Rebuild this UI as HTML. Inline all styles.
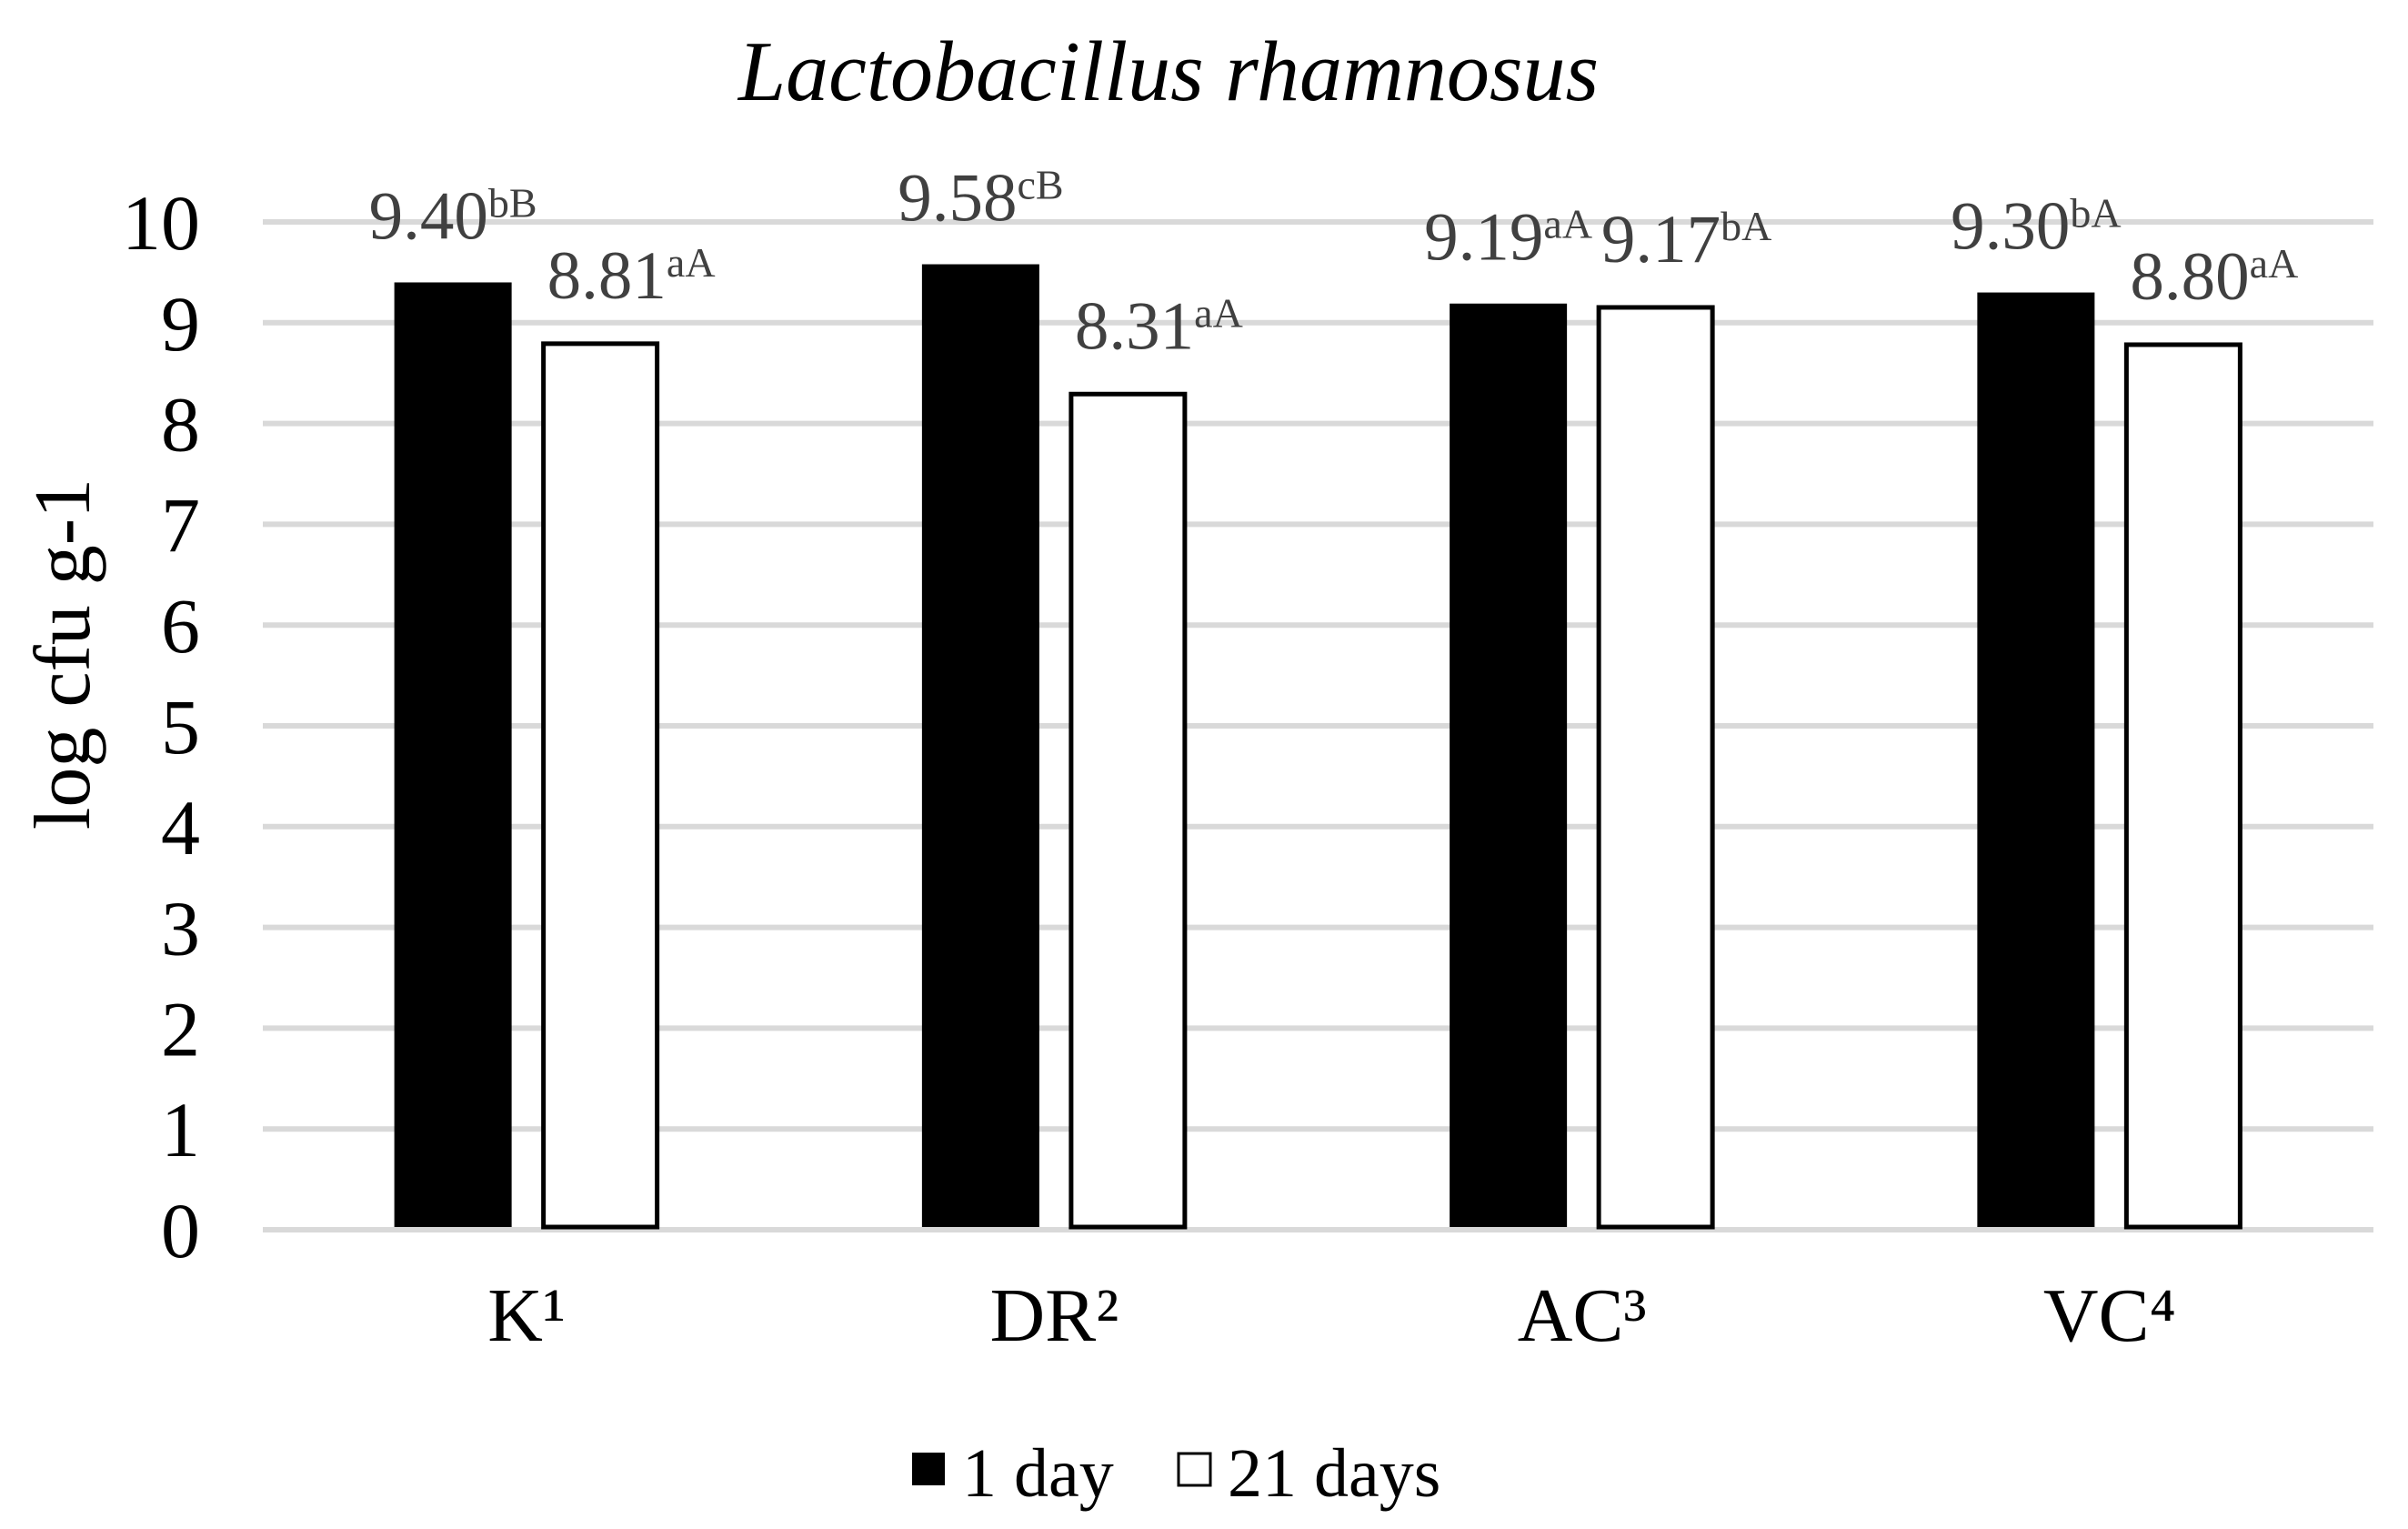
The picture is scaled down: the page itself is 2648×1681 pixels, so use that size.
<!DOCTYPE html>
<html><head><meta charset="utf-8"><style>
html,body{margin:0;padding:0;background:#fff;}
svg{display:block;font-family:"Liberation Serif",serif;}
</style></head><body>
<svg id="chart" width="2648" height="1681" viewBox="0 0 2648 1681" xmlns="http://www.w3.org/2000/svg">
<text x="1285" y="110" font-size="94" font-style="italic" text-anchor="middle" fill="#000">Lactobacillus rhamnosus</text>
<text transform="translate(98,719) rotate(-90)" font-size="88" text-anchor="middle" fill="#000">log cfu g-1</text>
<g id="grid"></g><g id="bars"></g><g id="labels"></g>
<g>
<rect x="1003" y="1597" width="36" height="36" fill="#000"/>
<text x="1058" y="1645" font-size="76">1 day</text>
<rect x="1296" y="1598" width="35" height="35" fill="#fff" stroke="#000" stroke-width="3"/>
<text x="1350" y="1645" font-size="76">21 days</text>
</g>
</svg>
<script>
const categories = ["K", "DR", "AC", "VC"];
const catSup = ["¹", "²", "³", "⁴"];
const day1 = [9.40, 9.58, 9.19, 9.30];
const day21 = [8.81, 8.31, 9.17, 8.80];
const day1Letters = ["bB", "cB", "aA", "bA"];
const day21Letters = ["aA", "aA", "bA", "aA"];
const yTicks = [0,1,2,3,4,5,6,7,8,9,10];

const NS = "http://www.w3.org/2000/svg";
const plotL = 289, plotR = 2610, y0 = 1352, unit = 110.8;
const yScale = v => y0 - v * unit;
const catW = (plotR - plotL) / categories.length;
const xCenter = i => plotL + catW * (i + 0.5);
const barW = 129, gap = 33;

function mk(tag, attrs, parent) {
  const e = document.createElementNS(NS, tag);
  for (const k in attrs) e.setAttribute(k, attrs[k]);
  parent.appendChild(e);
  return e;
}
const grid = document.getElementById('grid');
const bars = document.getElementById('bars');
const labels = document.getElementById('labels');

yTicks.forEach(t => {
  const l = mk('line', {x1: plotL, x2: plotR, y1: yScale(t), y2: yScale(t), stroke: '#d9d9d9', 'stroke-width': 6}, grid);
  
  
  const tx = mk('text', {x: 220, y: yScale(t) + 30, 'font-size': 86, 'text-anchor': 'end', fill: '#000'}, grid);
  tx.textContent = t;
  
  
});

function valLabel(cx, v, sup, idx, series) {
  const tx = mk('text', {x: cx, y: yScale(v) - 48, 'text-anchor': 'middle', fill: '#404040', 'font-size': 75}, labels);
  
  
  const a = document.createElementNS(NS, 'tspan'); a.textContent = v.toFixed(2); tx.appendChild(a);
  const b = document.createElementNS(NS, 'tspan'); b.textContent = sup;
  b.setAttribute('font-size', 46); b.setAttribute('dy', -24); tx.appendChild(b);
}

categories.forEach((c, i) => {
  const cx = xCenter(i);
  const x1 = cx - gap / 2 - barW, x2 = cx + gap / 2;
  const r1 = mk('rect', {x: x1, y: yScale(day1[i]), width: barW, height: y0 - 3 - yScale(day1[i]), fill: '#000'}, bars);
  
  
  const r2 = mk('rect', {x: x2 + 2, y: yScale(day21[i]) + 2, width: barW - 4, height: y0 - 3 - yScale(day21[i]) - 2, fill: '#fff', stroke: '#000', 'stroke-width': 5}, bars);
  
  
  valLabel(x1 + barW / 2, day1[i], day1Letters[i], i, '1-day');
  valLabel(x2 + barW / 2 + 34, day21[i], day21Letters[i], i, '21-days');
  const ct = mk('text', {x: cx, y: 1474, 'text-anchor': 'middle', 'font-size': 84, fill: '#000'}, labels);
  
  
  ct.textContent = c + catSup[i];
});
</script>
</body></html>
